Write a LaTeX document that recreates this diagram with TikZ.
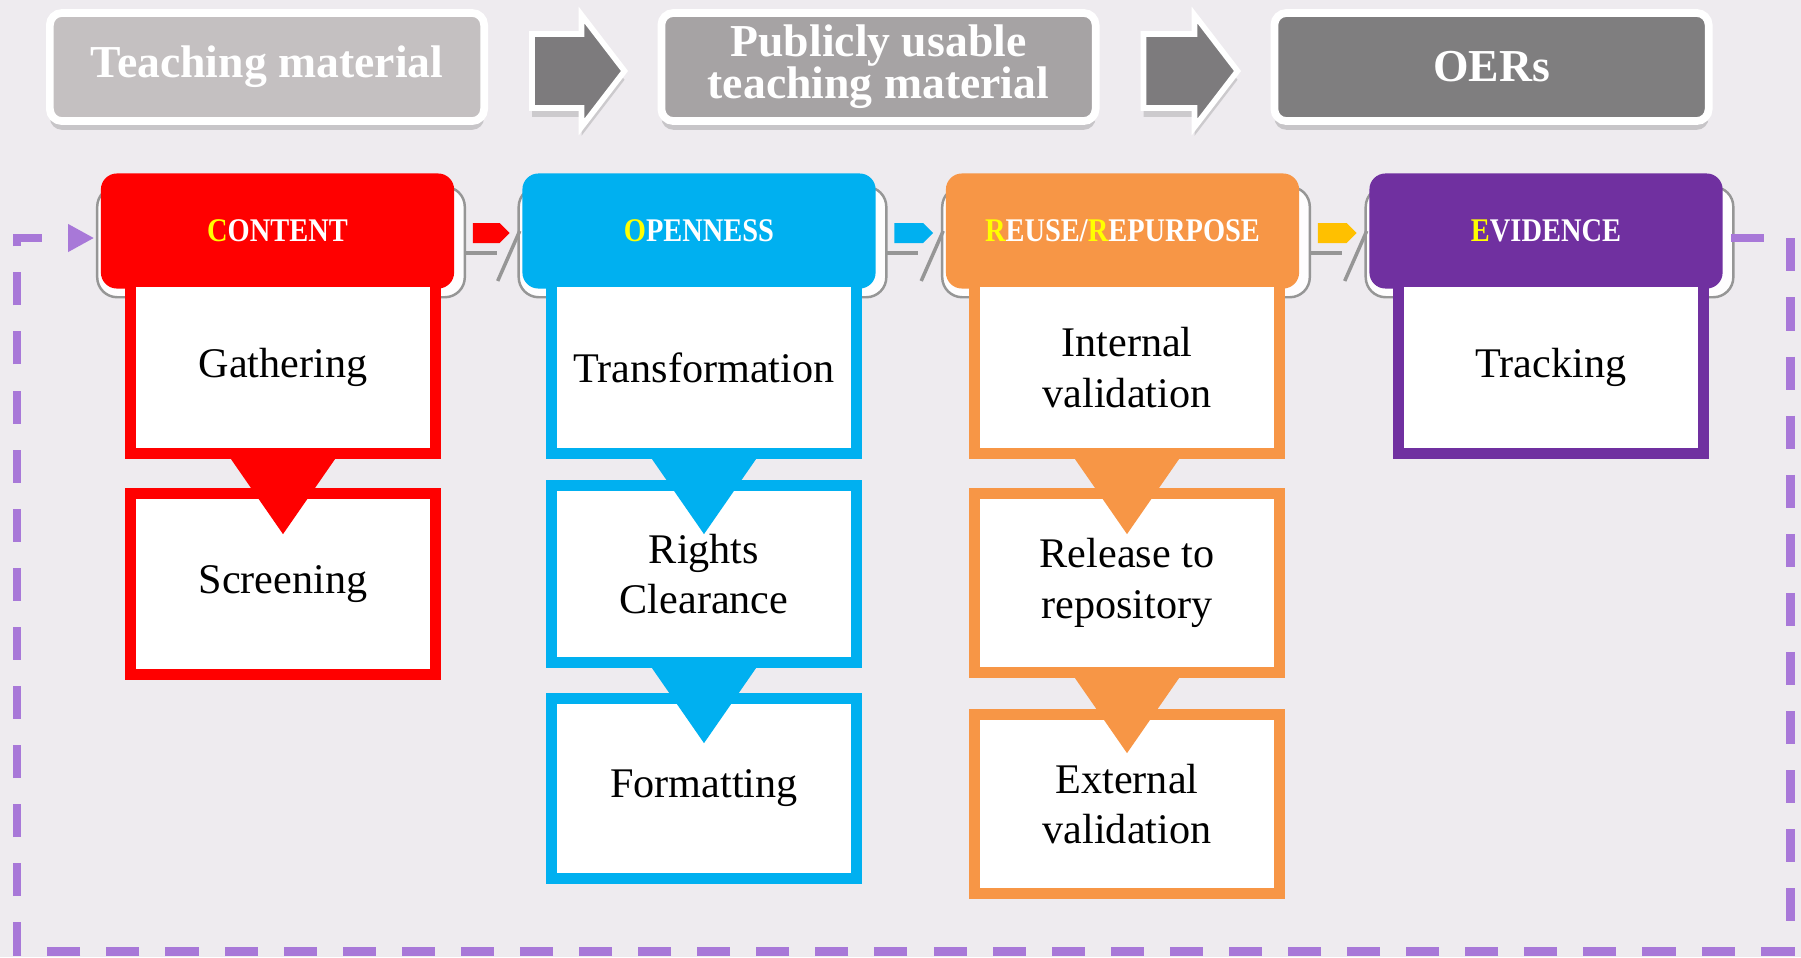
\documentclass[tikz,border=0pt]{standalone}
\usepackage{fontspec}
\setmainfont{Liberation Serif}
\usetikzlibrary{calc,arrows.meta,shadows}
\pgfdeclarelayer{back}
\pgfdeclarelayer{mid}
\pgfsetlayers{back,mid,main}
\definecolor{bgc}{RGB}{238,235,239}
\definecolor{cred}{RGB}{255,0,0}
\definecolor{cblue}{RGB}{0,176,240}
\definecolor{corange}{RGB}{247,150,70}
\definecolor{cpurple}{RGB}{112,48,160}
\definecolor{cyel}{RGB}{255,255,0}
\definecolor{cgold}{RGB}{255,192,0}
\definecolor{loopc}{RGB}{168,120,216}
\definecolor{gA}{RGB}{196,192,193}
\definecolor{gB}{RGB}{166,163,164}
\definecolor{gC}{RGB}{127,126,127}
\definecolor{garrow}{RGB}{125,123,125}
\definecolor{cardline}{RGB}{150,150,150}
\tikzset{
  topbox/.style={draw=white, line width=2.2pt, rounded corners=0.12cm,
    minimum width=4.34cm, minimum height=1.08cm, text=white, align=center,
    font=\bfseries\fontsize{13}{12}\selectfont, inner sep=0pt,
    drop shadow={shadow xshift=0pt, shadow yshift=-2.5pt, opacity=0.35}},
  toparrow/.style={fill=garrow, draw=white, line width=1.6pt, line join=miter,
    drop shadow={shadow xshift=0pt, shadow yshift=-2.5pt, opacity=0.3}},
  header/.style={fill=#1, rounded corners=0.16cm, minimum width=3.53cm,
    minimum height=1.15cm, text=white, font=\bfseries\fontsize{9.4}{10}\selectfont,
    inner sep=0pt},
  card/.style={fill=white!92!bgc, draw=cardline, line width=0.7pt, rounded corners=0.2cm},
  grayline/.style={draw=cardline, line width=1pt},
  stepbox/.style={draw=#1, fill=white, line width=2.6pt, minimum width=3.07cm,
    align=center, font=\fontsize{12}{14.4}\selectfont, inner sep=0pt},
  loopline/.style={draw=loopc, line width=2.55pt, dash pattern=on 9.4pt off 7.4pt},
}
\begin{document}
\begin{tikzpicture}[x=0.01cm, y=-0.01cm]
\useasboundingbox (0,0) rectangle (1801,957);
\begin{pgfonlayer}{back}
  \fill[bgc] (0,0) rectangle (1801,957);
\end{pgfonlayer}

% top row
\node[topbox, fill=gA] (tm) at (267,67) {Teaching material};
\node[topbox, fill=gB] (pu) at (878.5,67) {Publicly usable\\teaching material};
\node[topbox, fill=gC] (oer) at (1491.5,67) {OERs};
\foreach \a/\b in {tm/pu, pu/oer}
  \filldraw[toparrow] ([shift={(44,-33)}]\a.east) -- ([shift={(-76,-33)}]\b.west)
    -- ([shift={(-76,-52)}]\b.west) -- ([shift={(-33,4)}]\b.west)
    -- ([shift={(-76,60)}]\b.west) -- ([shift={(-76,41)}]\b.west)
    -- ([shift={(44,41)}]\a.east) -- cycle;

% headers
\node[header=cred] (cth) at (277.5,231) {\scalebox{0.86}[1]{\textcolor{cyel}{C}ONTENT}};
\node[header=cblue] (oph) at (699,231) {\scalebox{0.86}[1]{\textcolor{cyel}{O}PENNESS}};
\node[header=corange] (reh) at (1122.5,231) {\scalebox{0.86}[1]{\textcolor{cyel}{R}EUSE/\textcolor{cyel}{R}EPURPOSE}};
\node[header=cpurple] (evh) at (1546,231) {\scalebox{0.86}[1]{\textcolor{cyel}{E}VIDENCE}};

\begin{pgfonlayer}{mid}
  \foreach \h in {cth, oph, reh, evh}
    \filldraw[card] ([shift={(-3,14)}]\h.north west) rectangle ([shift={(10,8)}]\h.south east);
  \foreach \a/\b in {cth/oph, oph/reh, reh/evh} {
    \draw[grayline] ([shift={(10,22)}]\a.east) -- ([shift={(42,22)}]\a.east);
    \draw[grayline] ([shift={(-2,0)}]\b.west) -- ([shift={(-24,50)}]\b.west);
  }
\end{pgfonlayer}

% colored connectors between headers
\foreach \a/\b/\c in {cth/oph/cred, oph/reh/cblue, reh/evh/cgold}
  \fill[\c] ([shift={(18,-8)}]\a.east) -- ([shift={(-22,-8)}]\b.west)
    -- ([shift={(-12,2)}]\b.west) -- ([shift={(-22,12)}]\b.west)
    -- ([shift={(18,12)}]\a.east) -- cycle;

% step boxes
\node[stepbox=cred, minimum height=1.74cm] (gath) at (283,367.5) {Gathering};
\node[stepbox=cred, minimum height=1.83cm] (scr) at (283,584) {Screening};
\node[stepbox=cblue, minimum height=1.74cm] (trans) at (704,367.5) {Transformation};
\node[stepbox=cblue, minimum height=1.79cm] (rights) at (704,574) {Rights\\Clearance};
\node[stepbox=cblue, minimum height=1.82cm] (fmt) at (704,788.5) {Formatting};
\node[stepbox=corange, minimum height=1.74cm] (intv) at (1127,367.5) {Internal\\validation};
\node[stepbox=corange, minimum height=1.81cm] (rel) at (1127,583) {Release to\\repository};
\node[stepbox=corange, minimum height=1.81cm] (extv) at (1127,804) {External\\validation};
\node[stepbox=cpurple, minimum height=1.74cm] (track) at (1551,367.5) {Tracking};

\foreach \n/\c in {gath/cred, scr/cred, trans/cblue, rights/cblue, fmt/cblue,
    intv/corange, rel/corange, extv/corange, track/cpurple}
  \draw[\c, line width=0.7pt] ([shift={(9.5,9.5)}]\n.north west) rectangle ([shift={(-9.5,-9.5)}]\n.south east);

\foreach \n/\c in {gath/cred, trans/cblue, rights/cblue, intv/corange, rel/corange}
  \fill[\c] ([shift={(-52,0)}]\n.south) -- ([shift={(52,0)}]\n.south) -- ([shift={(0,75)}]\n.south) -- cycle;

% feedback loop
\draw[loopline, -{Triangle[length=0.26cm,width=0.26cm]}]
  ([shift={(8,7)}]evh.east) -| (1790,951) -| (17,238) -- ([shift={(-6,7)}]cth.west);
\end{tikzpicture}
\end{document}
